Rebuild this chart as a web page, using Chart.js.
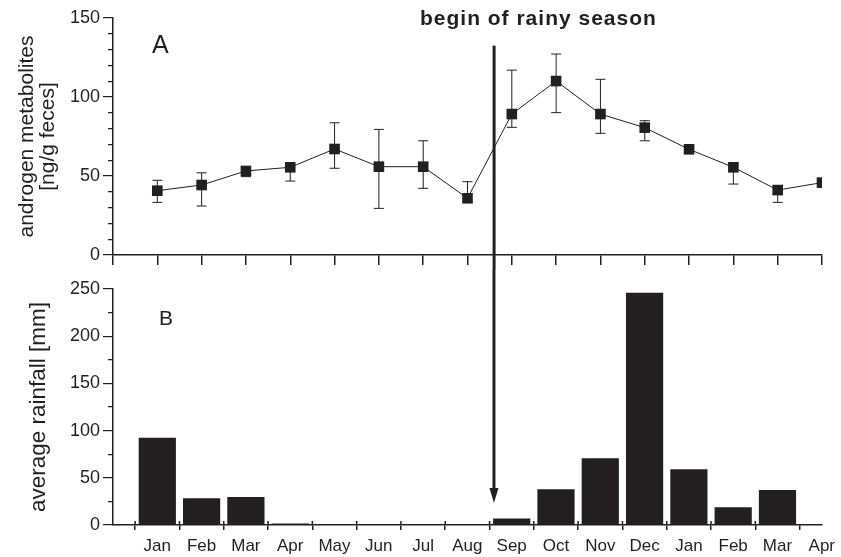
<!DOCTYPE html>
<html>
<head>
<meta charset="utf-8">
<script src="https://cdn.jsdelivr.net/npm/chart.js@4.4.1/dist/chart.umd.min.js"></script>
<style>
  body { margin: 0; background: #fff; }
  #wrap { position: relative; width: 841px; height: 557px; }
  .panel { position: absolute; left: 0; width: 841px; }
  #panelA { top: 0; height: 270px; }
  #panelB { top: 270px; height: 287px; }
</style>
</head>
<body>
<div id="wrap">
  <div class="panel" id="panelA"><canvas id="androgenChart"></canvas></div>
  <div class="panel" id="panelB"><canvas id="rainChart"></canvas></div>
</div>
<script>
const months = ['Jan', 'Feb', 'Mar', 'Apr', 'May', 'Jun', 'Jul', 'Aug', 'Sep', 'Oct', 'Nov', 'Dec', 'Jan', 'Feb', 'Mar', 'Apr'];
const androgen = [40.7, 44.3, 53.2, 55.5, 67.1, 55.9, 55.9, 35.9, 89.2, 110.1, 89.2, 80.6, 66.9, 55.5, 41.1, 45.8];
const androgenHigh = [47.3, 52.0, 55.0, 57.0, 83.7, 79.5, 72.3, 46.4, 117.0, 127.2, 111.2, 85.0, null, 57.0, 42.0, null];
const androgenLow = [33.3, 31.0, 49.6, 46.8, 54.9, 29.5, 42.2, 34.0, 80.8, 90.1, 77.0, 72.3, null, 44.9, 33.3, null];
const rainfall = [92.5, 28.3, 29.7, 1.5, 0, 0, 0, 0, 7, 38, 70.6, 246, 59, 18.7, 37];
const seasonStart = 7.6; // between Aug and Sep
const ink = '#231f20';

Chart.defaults.font.family = "'Liberation Sans', Arial, sans-serif";
Chart.defaults.color = ink;

// error bars under the squares
const errorBars = {
  id: 'errorBars',
  beforeDatasetsDraw(chart) {
    const {ctx, scales: {x, y}} = chart;
    ctx.save();
    ctx.strokeStyle = ink;
    ctx.lineWidth = 1;
    androgen.forEach((v, i) => {
      if (androgenHigh[i] == null) return;
      const px = x.getPixelForValue(i);
      const top = y.getPixelForValue(androgenHigh[i]);
      const bot = y.getPixelForValue(androgenLow[i]);
      ctx.beginPath();
      ctx.moveTo(px, top); ctx.lineTo(px, bot);
      ctx.moveTo(px - 5, top); ctx.lineTo(px + 5, top);
      ctx.moveTo(px - 5, bot); ctx.lineTo(px + 5, bot);
      ctx.stroke();
    });
    ctx.restore();
  }
};

const topNotes = {
  id: 'topNotes',
  afterDraw(chart) {
    const {ctx, scales: {x, y}} = chart;
    const px = x.getPixelForValue(seasonStart);
    ctx.save();
    ctx.strokeStyle = ink;
    ctx.lineWidth = 3;
    ctx.beginPath();
    ctx.moveTo(px, y.getPixelForValue(132.5));
    ctx.lineTo(px, chart.height);
    ctx.stroke();
    ctx.fillStyle = ink;
    ctx.textBaseline = 'alphabetic';
    ctx.font = "bold 21px 'Liberation Sans', Arial, sans-serif";
    ctx.letterSpacing = '1px';
    ctx.textAlign = 'center';
    ctx.fillText('begin of rainy season', x.getPixelForValue(8.6), y.getPixelForValue(145.6));
    ctx.letterSpacing = '0px';
    ctx.font = "25px 'Liberation Sans', Arial, sans-serif";
    ctx.textAlign = 'left';
    ctx.fillText('A', x.getPixelForValue(-0.12), y.getPixelForValue(127.8));
    ctx.restore();
  }
};

const bottomNotes = {
  id: 'bottomNotes',
  afterDraw(chart) {
    const {ctx, scales: {x, y}} = chart;
    const px = x.getPixelForValue(seasonStart);
    const tip = y.getPixelForValue(23.3);
    const axisY = y.getPixelForValue(0);
    ctx.save();
    ctx.strokeStyle = ink;
    ctx.fillStyle = ink;
    ctx.lineWidth = 3;
    ctx.beginPath();
    ctx.moveTo(px, 0);
    ctx.lineTo(px, tip - 12);
    ctx.stroke();
    ctx.beginPath();
    ctx.moveTo(px - 4.5, tip - 15);
    ctx.lineTo(px + 4.5, tip - 15);
    ctx.lineTo(px, tip);
    ctx.closePath();
    ctx.fill();
    // upper half of the crossing ticks
    ctx.lineWidth = 1.5;
    ctx.beginPath();
    for (let i = 0; i < months.length - 1; i++) {
      const tx = x.getPixelForValue(i - 0.5);
      ctx.moveTo(tx, axisY - 4);
      ctx.lineTo(tx, axisY);
    }
    ctx.stroke();
    ctx.font = "21px 'Liberation Sans', Arial, sans-serif";
    ctx.textAlign = 'left';
    ctx.fillText('B', x.getPixelForValue(0.04), y.getPixelForValue(211.9));
    ctx.restore();
  }
};

new Chart(document.getElementById('androgenChart'), {
  type: 'line',
  data: {
    datasets: [
      {
        data: androgen.map((v, i) => ({x: i, y: v})),
        borderColor: ink,
        borderWidth: 1,
        pointStyle: 'rect',
        pointRadius: 7.5,
        pointBackgroundColor: ink,
        pointBorderWidth: 0
      }
    ]
  },
  options: {
    maintainAspectRatio: false,
    animation: false,
    events: [],
    layout: { padding: { top: 18, right: 19, left: 0, bottom: 0 } },
    plugins: { legend: { display: false }, tooltip: { enabled: false } },
    scales: {
      x: {
        type: 'linear', min: -1, max: 15,
        ticks: { stepSize: 1, display: false },
        grid: { drawOnChartArea: false, tickLength: 10, color: ink, lineWidth: 1.5 },
        border: { color: ink, width: 1.5 },
        afterFit: s => { s.height = 15; }
      },
      y: {
        min: 0, max: 150,
        ticks: { stepSize: 10, autoSkip: false, padding: 3, font: { size: 18 }, callback: v => v % 50 === 0 ? v : '' },
        grid: {
          drawOnChartArea: false, tickLength: 10, color: ink, lineWidth: 1.2,
          tickBorderDash: c => (c.tick && c.tick.value % 50) ? [0, 5, 10] : []
        },
        border: { color: ink, width: 1.5 },
        title: {
          display: true,
          text: ['androgen metabolites', '[ng/g feces]'],
          font: { size: 21, lineHeight: 1.0 },
          padding: { top: 17, bottom: 0 }
        },
        afterFit: s => { s.width = 113; }
      }
    }
  },
  plugins: [errorBars, topNotes]
});

new Chart(document.getElementById('rainChart'), {
  type: 'bar',
  data: {
    datasets: [
      {
        data: rainfall.map((v, i) => ({x: i, y: v})),
        backgroundColor: ink,
        borderWidth: 0,
        categoryPercentage: 1,
        barPercentage: 0.84
      }
    ]
  },
  options: {
    maintainAspectRatio: false,
    animation: false,
    events: [],
    layout: { padding: { top: 19, right: 19, left: 0, bottom: 0 } },
    plugins: { legend: { display: false }, tooltip: { enabled: false } },
    scales: {
      x: {
        type: 'linear', min: -1, max: 15, offset: false,
        ticks: {
          stepSize: 1, autoSkip: false, maxRotation: 0, padding: 6, font: { size: 17 },
          callback: v => v >= 0 ? months[v] : ''
        },
        grid: {
          offset: true, drawOnChartArea: false, tickLength: 5, lineWidth: 1.5, color: ink
        },
        border: { color: ink, width: 1.5 },
        afterFit: s => { s.height = 32; }
      },
      y: {
        min: 0, max: 250,
        ticks: { stepSize: 25, autoSkip: false, padding: 3, font: { size: 18 }, callback: v => v % 50 === 0 ? v : '' },
        grid: {
          drawOnChartArea: false, tickLength: 10, color: ink, lineWidth: 1.2,
          tickBorderDash: c => (c.tick && c.tick.value % 50) ? [0, 5, 10] : []
        },
        border: { color: ink, width: 1.5 },
        title: {
          display: true,
          text: 'average rainfall [mm]',
          font: { size: 22.5, lineHeight: 1.0 },
          padding: { top: 28, bottom: 0 }
        },
        afterFit: s => { s.width = 113; }
      }
    }
  },
  plugins: [bottomNotes]
});
</script>
</body>
</html>
